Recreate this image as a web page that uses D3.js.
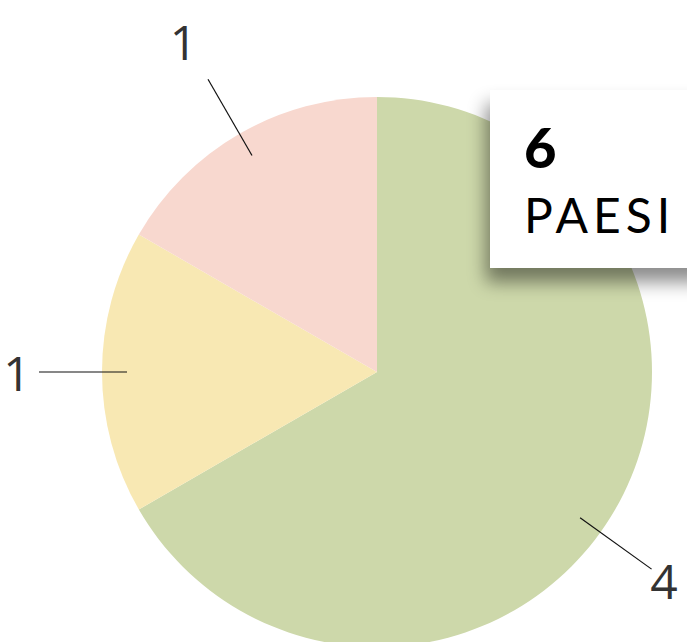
<!DOCTYPE html>
<html>
<head>
<meta charset="utf-8">
<script src="https://cdn.jsdelivr.net/npm/d3@7"></script>
<style>
  html, body { margin: 0; padding: 0; background: #fff; overflow: hidden; }
  svg { display: block; }
</style>
</head>
<body>
<div id="chart"></div>
<script>
// slice data
const categories = ["A", "B", "C"];
const values = [4, 1, 1];
const colors = ["#cdd8aa", "#f8e8b3", "#f8d8cf"];
const totalLabel = "6";
const unitLabel = "PAESI";

const width = 687, height = 642;
const cx = 377, cy = 372, radius = 275;
const lineR0 = 250, lineR1 = 338, labelR = 357;
const maxLabelX = width - 20;

const svg = d3.select("#chart")
  .append("svg")
  .attr("width", width)
  .attr("height", height);

const defs = svg.append("defs");
const shadow = defs.append("filter")
  .attr("id", "shadow")
  .attr("x", "-30%").attr("y", "-30%")
  .attr("width", "160%").attr("height", "170%");
shadow.append("feDropShadow")
  .attr("dx", -4).attr("dy", 14)
  .attr("stdDeviation", 9)
  .attr("flood-color", "#000")
  .attr("flood-opacity", 0.45);

const data = categories.map((c, i) => ({ cat: c, value: values[i], color: colors[i] }));

const pie = d3.pie().sort(null).value(d => d.value);
const arc = d3.arc().innerRadius(0).outerRadius(radius);

const g = svg.append("g").attr("transform", `translate(${cx},${cy})`);
const arcs = pie(data);

// label angle: slice middle, slid along the circle if the label would leave the page
arcs.forEach(d => {
  let a = (d.startAngle + d.endAngle) / 2;
  if (cx + labelR * Math.sin(a) > maxLabelX) {
    const s = Math.asin((maxLabelX - cx) / labelR);
    a = Math.cos(a) < 0 ? Math.PI - s : s;
  }
  d.labelAngle = a;
});
const polar = (a, r) => [r * Math.sin(a), -r * Math.cos(a)];

g.selectAll("path.slice")
  .data(arcs)
  .join("path")
  .attr("class", "slice")
  .attr("d", arc)
  .attr("fill", d => d.data.color);

g.selectAll("line.leader")
  .data(arcs)
  .join("line")
  .attr("class", "leader")
  .attr("x1", d => polar(d.labelAngle, lineR0)[0])
  .attr("y1", d => polar(d.labelAngle, lineR0)[1])
  .attr("x2", d => polar(d.labelAngle, lineR1)[0])
  .attr("y2", d => polar(d.labelAngle, lineR1)[1])
  .attr("stroke", "#111")
  .attr("stroke-width", 1.2);

const labelPos = d => polar(d.labelAngle, labelR + 28 * Math.max(0, Math.cos(d.labelAngle)));

g.selectAll("text.val")
  .data(arcs)
  .join("text")
  .attr("class", "val")
  .attr("x", d => labelPos(d)[0] - 3)
  .attr("y", d => labelPos(d)[1])
  .attr("text-anchor", "middle")
  .attr("dominant-baseline", "central")
  .attr("font-family", "'Open Sans', Roboto, sans-serif")
  .attr("font-weight", 400)
  .attr("font-size", 48)
  .attr("fill", "#333")
  .text(d => d.data.value);

// total box
const box = svg.append("g").attr("transform", "translate(490,90)");
box.append("rect")
  .attr("width", 220)
  .attr("height", 178)
  .attr("fill", "#fff")
  .attr("filter", "url(#shadow)");
box.append("text")
  .attr("x", 34).attr("y", 78)
  .attr("font-family", "Lato, 'Noto Sans', sans-serif")
  .attr("font-weight", 900)
  .attr("font-size", 56)
  .attr("fill", "#000")
  .text(totalLabel);
box.append("text")
  .attr("x", 34).attr("y", 143)
  .attr("font-family", "Lato, 'Noto Sans', sans-serif")
  .attr("font-weight", 400)
  .attr("font-size", 48)
  .attr("letter-spacing", 5)
  .attr("fill", "#000")
  .text(unitLabel);
</script>
</body>
</html>
